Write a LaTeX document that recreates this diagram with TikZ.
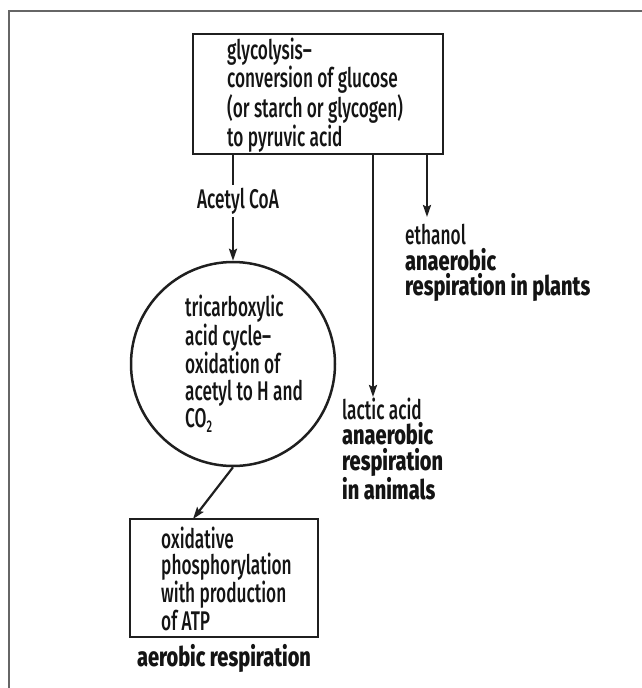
\documentclass[tikz,border=0pt]{standalone}
\usepackage{fontspec}
\setmainfont{Fira Sans Medium}[FakeStretch=0.64, BoldFont={Fira Sans ExtraBold}, BoldFeatures={FakeStretch=0.74}]
\usetikzlibrary{arrows.meta}
\begin{document}
\begin{tikzpicture}[x=1pt,y=-1pt,
  every node/.style={font=\fontsize{27}{25.5}\selectfont, text=black!92, inner sep=0pt},
  frame/.style={draw=black!60, line width=2pt},
  procbox/.style={draw=black!88, line width=2.8pt, rectangle},
  cyclecirc/.style={draw=black!88, line width=2.5pt, circle, minimum size=204pt},
  flow/.style={draw=black!88, line width=2.2pt, -{Stealth[length=12pt,width=8pt,inset=2pt]}},
  lbl/.style={align=left, anchor=west}]
\useasboundingbox (0,0) rectangle (642,688);
\draw[frame] (642,11) -- (9,11) -- (9,688);

\node[procbox, minimum width=250pt, minimum height=120pt] (glyc) at (318,94) {};
\node[lbl] (glyctext) at (227,95)
  {glycolysis--\\conversion of glucose\\(or starch or glycogen)\\to pyruvic acid};

\node[cyclecirc] (tca) at (233,364) {};
\node[lbl, font=\fontsize{27}{27}\selectfont] (tcatext) at (185,364)
  {tricarboxylic\\acid cycle--\\oxidation of\\acetyl to H and\\CO\raisebox{-5pt}{\fontsize{17}{17}\selectfont 2}};

\draw[flow] (glyc.south -| tca.north) -- (tca.north);
\node[fill=white, inner sep=3pt] (acetyl) at (238,201) {Acetyl CoA};

\coordinate (lacttip) at (373,397);
\coordinate (ethtip) at (427,217);
\draw[flow] (glyc.south -| lacttip) -- (lacttip);
\draw[flow] (glyc.south -| ethtip) -- (ethtip);

\node[lbl] (eth) at (405,263)
  {ethanol\\{\bfseries anaerobic}\\{\bfseries respiration in plants}};
\node[lbl] (lact) at (342,449)
  {lactic acid\\{\bfseries anaerobic}\\{\bfseries respiration}\\{\bfseries in animals}};

\node[procbox, minimum width=188pt, minimum height=118pt] (ox) at (224,578) {};
\node[lbl] (oxtext) at (161,579)
  {oxidative\\phosphorylation\\with production\\of ATP};
\coordinate (oxtip) at (193,519);
\draw[flow] (tca.south) -- (oxtip);

\node[font=\fontsize{27}{25.5}\selectfont\bfseries] (aerobic) at (224,658) {aerobic respiration};
\end{tikzpicture}
\end{document}
